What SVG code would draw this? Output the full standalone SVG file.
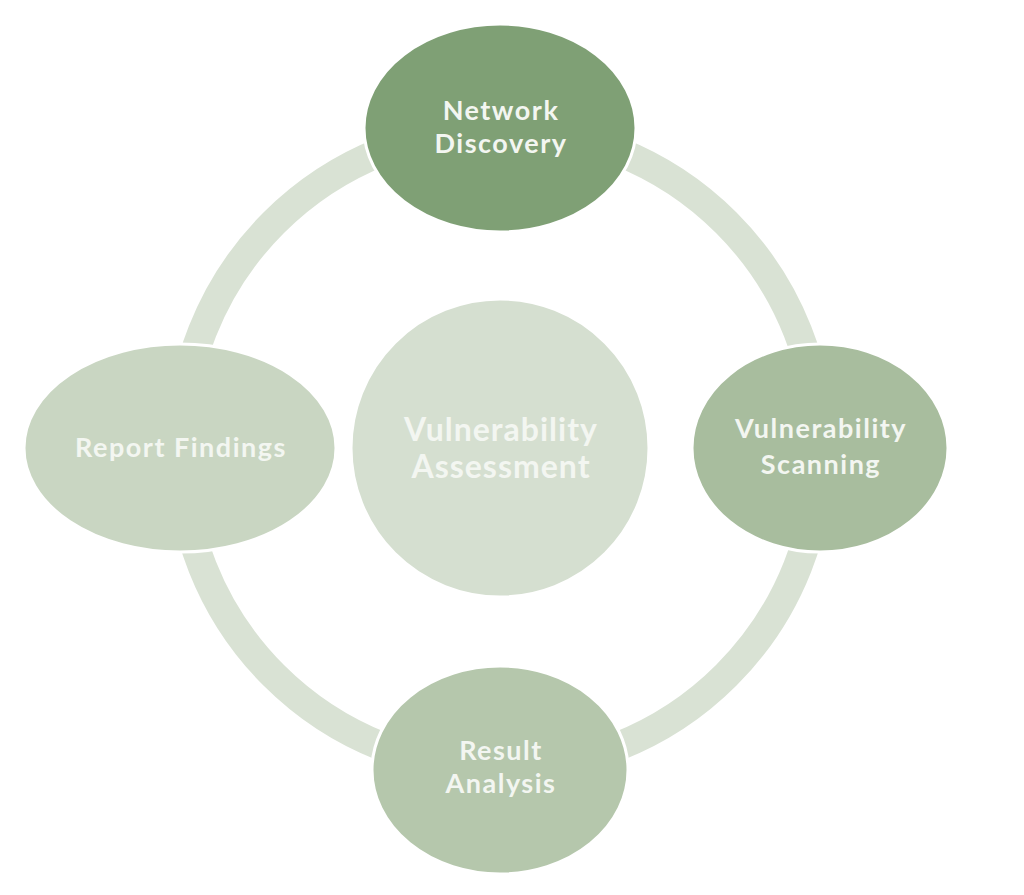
<svg xmlns="http://www.w3.org/2000/svg" width="1024" height="895" viewBox="0 0 1024 895">
<style>
.lbl{font-family:Lato,"Liberation Sans",sans-serif;font-weight:bold;text-anchor:middle;fill:#f3f6f1;font-size:27px;letter-spacing:1.5px}
.big{font-size:32px;letter-spacing:1px}
.node{stroke:#ffffff;stroke-width:3}
</style>
<rect width="1024" height="895" fill="#ffffff"/>
<g id="connectors">
<circle cx="500" cy="449" r="320" fill="none" stroke="#d9e2d4" stroke-width="29"/>
</g>
<g id="center">
<circle class="node" cx="500" cy="448" r="149" fill="#d5dfd0"/>
<text class="lbl big" x="501" y="441">Vulnerability</text>
<text class="lbl big" x="501" y="478">Assessment</text>
</g>
<g id="network-discovery">
<ellipse class="node" cx="500" cy="128" rx="136" ry="104" fill="#7fa075"/>
<text class="lbl" x="501" y="120">Network</text>
<text class="lbl" x="501" y="153">Discovery</text>
</g>
<g id="vulnerability-scanning">
<ellipse class="node" cx="820" cy="448" rx="128" ry="104" fill="#a8bd9e"/>
<text class="lbl" x="821" y="438">Vulnerability</text>
<text class="lbl" x="821" y="474">Scanning</text>
</g>
<g id="result-analysis">
<ellipse class="node" cx="500" cy="770" rx="128" ry="104" fill="#b5c7ac"/>
<text class="lbl" x="501" y="760">Result</text>
<text class="lbl" x="501" y="793">Analysis</text>
</g>
<g id="report-findings">
<ellipse class="node" cx="180" cy="448" rx="156" ry="104" fill="#c9d6c2"/>
<text class="lbl" x="181" y="457">Report Findings</text>
</g>
</svg>
